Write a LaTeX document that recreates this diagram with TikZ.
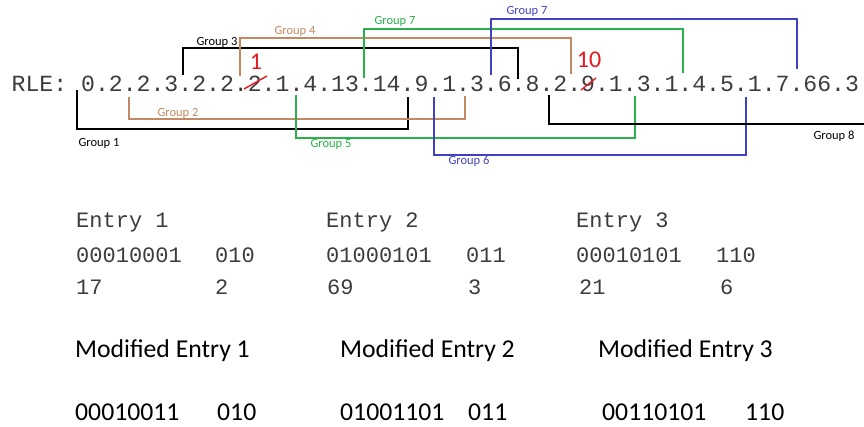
\documentclass[tikz,border=0pt]{standalone}
\usepackage{fontspec}
\newfontfamily\monof{Liberation Mono}
\newfontfamily\calf{Carlito}
\definecolor{grpbrown}{RGB}{196,137,96}
\definecolor{grpgreen}{RGB}{40,178,72}
\definecolor{grpblue}{RGB}{64,64,196}
\definecolor{markred}{RGB}{232,22,30}
\definecolor{monogray}{RGB}{60,60,60}
\tikzset{
  bracket/.style={line width=1.6pt},
  glabel/.style={inner sep=0pt, font=\calf\fontsize{12.5}{14}\selectfont},
  rle/.style={inner sep=0pt, anchor=base west, text height=16pt, text=monogray,
    font=\monof\fontsize{23.15}{26}\selectfont},
  entry/.style={inner sep=0pt, anchor=base west, text=monogray,
    font=\monof\fontsize{22}{24}\selectfont},
  modtext/.style={inner sep=0pt, anchor=base west, font=\calf\fontsize{25.7}{28}\selectfont},
  fix/.style={inner sep=0pt, anchor=base, text=markred, font=\calf\fontsize{24}{28}\selectfont},
  strike/.style={draw=markred, line width=1.4pt},
}
\begin{document}
\begin{tikzpicture}[x=1pt, y=-1pt]
\useasboundingbox (0,0) rectangle (864,427);

% run-length encoded sequence
\node[rle] (seq) at (11.5,92) {RLE: 0.2.2.3.2.2.2.1.4.13.14.9.1.3.6.8.2.9.1.3.1.4.5.1.7.66.3};

% corrections written over the sequence
\draw[strike] (244,89) -- (267,76);
\node[fix] (fixa) at (256,69.5) {1};
\draw[strike] (581,90) -- (596,78);
\node[fix] (fixb) at (589,68) {10};

% groups below the sequence
\draw[bracket] (77,90) -- (77,129) -- (408,129) -- (408,97);
\node[glabel] (g1) at (99,143) {Group 1};
\draw[bracket, grpbrown] (129,97) -- (129,119) -- (465,119) -- (465,96);
\node[glabel, text=grpbrown] (g2) at (178,113) {Group 2};
\draw[bracket, grpgreen] (296,95) -- (296,138) -- (635,138) -- (635,96);
\node[glabel, text=grpgreen] (g5) at (331,144) {Group 5};
\draw[bracket, grpblue] (434,97) -- (434,155) -- (746,155) -- (746,97);
\node[glabel, text=grpblue] (g6) at (469,161) {Group 6};
\draw[bracket] (549,95) -- (549,124) -- (864,124);
\node[glabel] (g8) at (834,136) {Group 8};

% groups above the sequence
\draw[bracket] (183,75) -- (183,48) -- (518,48) -- (518,79);
\node[glabel] (g3) at (217,42) {Group 3};
\draw[bracket, grpbrown] (240,76) -- (240,38) -- (571,38) -- (571,74);
\node[glabel, text=grpbrown] (g4) at (295,31) {Group 4};
\draw[bracket, grpgreen] (364,78) -- (364,29) -- (683,29) -- (683,73);
\node[glabel, text=grpgreen] (g7a) at (395,21) {Group 7};
\draw[bracket, grpblue] (491,75) -- (491,19) -- (797,19) -- (797,69);
\node[glabel, text=grpblue] (g7b) at (527,11) {Group 7};

% table entries
\node[entry] (e1) at (76,228) {Entry 1};
\node[entry] (e1b) at (76,263) {00010001};
\node[entry] (e1c) at (215,263) {010};
\node[entry] (e1d) at (76,295) {17};
\node[entry] (e1e) at (215,295) {2};

\node[entry] (e2) at (326,228) {Entry 2};
\node[entry] (e2b) at (326,263) {01000101};
\node[entry] (e2c) at (466,263) {011};
\node[entry] (e2d) at (327,295) {69};
\node[entry] (e2e) at (468,295) {3};

\node[entry] (e3) at (576,228) {Entry 3};
\node[entry] (e3b) at (576,263) {00010101};
\node[entry] (e3c) at (716,263) {110};
\node[entry] (e3d) at (579,295) {21};
\node[entry] (e3e) at (720,295) {6};

% modified entries
\node[modtext] (m1) at (75,357) {Modified Entry 1};
\node[modtext] (m1b) at (75,420) {00010011};
\node[modtext] (m1c) at (217,420) {010};

\node[modtext] (m2) at (340,357) {Modified Entry 2};
\node[modtext] (m2b) at (340,420) {01001101};
\node[modtext] (m2c) at (468,420) {011};

\node[modtext] (m3) at (598,357) {Modified Entry 3};
\node[modtext] (m3b) at (602,420) {00110101};
\node[modtext] (m3c) at (745,420) {110};
\end{tikzpicture}
\end{document}
